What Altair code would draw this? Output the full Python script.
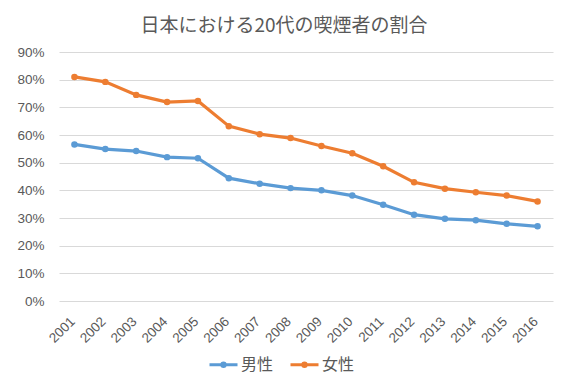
import altair as alt
import pandas as pd

years = [str(y) for y in range(2001, 2017)]
male = [56.6, 54.9, 54.2, 52.0, 51.6, 44.4, 42.4, 40.8, 40.0, 38.1, 34.8, 31.2, 29.7, 29.2, 27.9, 27.0]
female = [81.0, 79.2, 74.5, 71.9, 72.3, 63.2, 60.3, 58.9, 56.0, 53.4, 48.7, 42.9, 40.6, 39.3, 38.1, 36.0]
series = ["男性", "女性"]
colors = ["#5B9BD5", "#ED7D31"]
y_ticks = [0, 0.1, 0.2, 0.3, 0.4, 0.5, 0.6, 0.7, 0.8, 0.9]

rows = []
for s, vals in zip(series, [male, female]):
    for y, v in zip(years, vals):
        rows.append({"year": y, "series": s, "value": v / 100})
df = pd.DataFrame(rows)

LABEL = "#595959"
legend_symbol = "M-1,0L1,0M-0.12,0A0.12,0.12,0,1,1,0.12,0A0.12,0.12,0,1,1,-0.12,0"

chart = alt.Chart(df).mark_line(
    strokeWidth=3.2,
    point=alt.OverlayMarkDef(size=42, filled=True, opacity=1),
).encode(
    x=alt.X("year:O", sort=years,
            scale=alt.Scale(type="point", padding=0.5),
            axis=alt.Axis(title=None, labelAngle=-45, labelAlign="right", labelBaseline="middle",
                          labelPadding=18, labelOffset=-2, ticks=False, domain=False, grid=False,
                          labelColor=LABEL, labelFont="Liberation Sans", labelFontSize=13.5)),
    y=alt.Y("value:Q",
            scale=alt.Scale(domain=[0, 0.9], nice=False),
            axis=alt.Axis(title=None, format=".0%", values=y_ticks, ticks=False, domain=False,
                          labelPadding=15, labelColor=LABEL, labelFont="Liberation Sans",
                          labelFontSize=13.5, gridColor="#D9D9D9", gridWidth=1)),
    color=alt.Color("series:N", sort=series,
                    scale=alt.Scale(domain=series, range=colors),
                    legend=alt.Legend(title=None, orient="none", direction="horizontal",
                                      legendX=149, legendY=297, padding=0,
                                      symbolType=legend_symbol, symbolSize=784,
                                      symbolStrokeWidth=3, labelOffset=2, columnPadding=10,
                                      labelFont="Noto Sans CJK JP", labelFontSize=16,
                                      labelColor=LABEL)),
).properties(
    width=494,
    height=249,
    background="white",
    title=alt.TitleParams("日本における20代の喫煙者の割合", font="Noto Sans CJK JP",
                          fontSize=19, fontWeight="normal", color=LABEL,
                          anchor="middle", frame="group", dx=-22, offset=9),
    autosize=alt.AutoSizeParams(type="none"),
    padding={"left": 51, "top": 44, "right": 6, "bottom": 75},
).configure_view(stroke=None)

chart.save("out.html", embed_options={"renderer": "svg", "actions": False})
